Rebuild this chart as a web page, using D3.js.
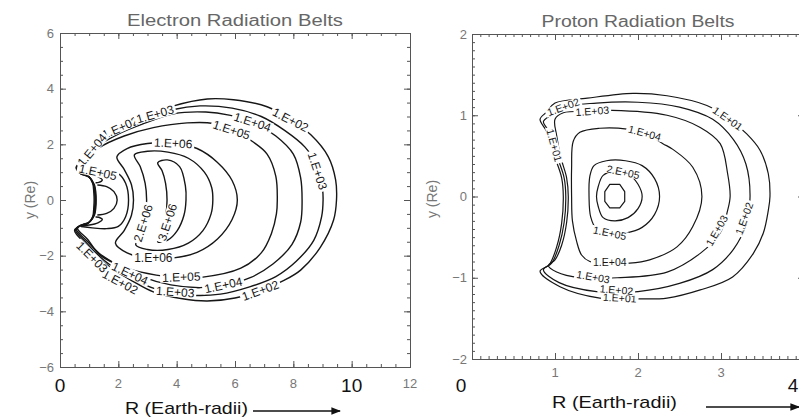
<!DOCTYPE html>
<html><head><meta charset="utf-8">
<script src="https://cdn.jsdelivr.net/npm/d3@7"></script>
<style>
body{margin:0;background:#fff;}
svg{display:block;font-family:"Liberation Sans",Arial,sans-serif;}
</style></head><body>
<svg id="c" width="799" height="417"></svg>
<script>
// ---------------- DATA ----------------
// Electron panel ticks
const eXTicks = [0, 2, 4, 6, 8, 10, 12];
const eXBig = [0, 10];
const eYTicks = [-6, -4, -2, 0, 2, 4, 6];
// Proton panel ticks
const pXTicks = [0, 1, 2, 3, 4];
const pXBig = [0, 4];
const pYTicks = [-2, -1, 0, 1, 2];

// Electron contours (R, y in Earth radii)
const e1E02 = [[0.55,1.15],[0.8,1.55],[1.37,2.16],[2.1,2.58],[2.75,2.9],[3.9,3.38],[5.05,3.63],[5.95,3.6],[7.1,3.35],[7.9,2.88],[8.6,2.34],[9.2,1.55],[9.45,0.72],[9.48,0],
  [9.38,-0.72],[8.93,-1.69],[8.25,-2.52],[7.66,-2.9],[6.87,-3.25],[6.0,-3.52],[5.05,-3.63],[4.2,-3.55],[3.2,-3.3],[2.5,-2.92],[1.8,-2.48],[1.3,-2.05],[0.9,-1.6],[0.5,-1.1],
  [0.62,-0.96],[0.95,-0.85],[1.12,-0.6],[1.16,-0.25],[1.17,0],[1.16,0.25],[1.12,0.6],[0.95,0.88],[0.66,0.99]];
const e1E03 = [[0.57,1.12],[0.82,1.5],[1.4,2.1],[2.1,2.5],[2.8,2.83],[3.9,3.25],[4.8,3.38],[5.9,3.3],[6.9,3.0],[7.7,2.5],[8.4,1.9],[8.83,1.2],[9.0,0.4],[9.02,0],
  [8.97,-0.6],[8.7,-1.45],[8.1,-2.2],[7.4,-2.75],[6.5,-3.12],[5.5,-3.38],[4.5,-3.42],[3.3,-3.2],[2.5,-2.84],[1.8,-2.4],[1.3,-1.98],[0.92,-1.55],[0.53,-1.08],
  [0.66,-0.93],[0.98,-0.82],[1.14,-0.58],[1.19,-0.25],[1.2,0],[1.19,0.25],[1.14,0.58],[0.98,0.85],[0.68,0.96]];
const e1E04 = [[0.6,1.08],[0.85,1.45],[1.42,2.02],[2.1,2.42],[2.8,2.72],[3.9,3.1],[5.0,3.16],[5.8,3.05],[6.6,2.8],[7.4,2.3],[8.0,1.65],[8.25,0.8],[8.3,0],
  [8.25,-0.8],[7.95,-1.6],[7.3,-2.3],[6.5,-2.8],[5.6,-3.06],[4.8,-3.15],[3.8,-3.05],[2.8,-2.75],[2.0,-2.35],[1.35,-1.92],[0.95,-1.5],[0.56,-1.05],
  [0.7,-0.92],[1.0,-0.8],[1.16,-0.56],[1.21,-0.25],[1.22,0],[1.21,0.25],[1.16,0.56],[1.0,0.83],[0.72,0.94]];
const e1E05 = [[0.63,1.03],[0.88,1.38],[1.35,1.88],[2.2,2.3],[3.2,2.6],[4.36,2.77],[5.26,2.75],[6.0,2.48],[6.6,2.1],[7.1,1.65],[7.4,0.85],[7.45,0],
  [7.42,-0.5],[7.25,-1.2],[6.9,-1.9],[6.2,-2.45],[4.9,-2.77],[4.1,-2.78],[3.3,-2.7],[2.3,-2.45],[1.37,-1.98],[0.95,-1.42],[0.6,-1.02],
  [0.75,-0.9],[1.02,-0.78],[1.18,-0.55],[1.23,-0.25],[1.24,0],[1.23,0.25],[1.18,0.55],[1.02,0.8],[0.76,0.92]];
const eInnerLoop = [[1.28,0.54],[1.6,0.48],[1.85,0.3],[1.96,0],[1.85,-0.3],[1.6,-0.48],[1.28,-0.54]];
const eCuspTop = [[0.72,0.95],[1.0,0.93],[1.3,0.84],[1.45,0.72],[1.33,0.63],[1.22,0.62]];
const eCuspBot = [[0.7,-0.93],[1.0,-0.9],[1.3,-0.82],[1.45,-0.7],[1.33,-0.62],[1.22,-0.61]];
const e1E05in = [[0.72,0.98],[1.1,1.02],[1.6,1.03],[2.0,0.95],[2.25,0.6],[2.35,0],[2.25,-0.6],[2.0,-0.95],[1.6,-1.03],[1.1,-1.0],[0.72,-0.95]];
const e1E06 = [[1.95,1.55],[2.3,1.85],[3.0,2.03],[3.88,2.05],[4.7,1.85],[5.4,1.35],[5.9,0.7],[6.08,0],[5.9,-0.7],[5.4,-1.4],[4.7,-1.88],[3.9,-2.08],[3.0,-2.08],[2.3,-1.9],[1.9,-1.55],
  [2.2,-1.1],[2.45,-0.55],[2.52,0],[2.45,0.55],[2.2,1.1]];
const e2E06 = [[2.55,1.62],[3.0,1.75],[3.7,1.72],[4.4,1.5],[4.95,1.0],[5.2,0.45],[5.24,0],[5.18,-0.5],[4.9,-1.1],[4.4,-1.55],[3.7,-1.78],[3.0,-1.78],[2.6,-1.62],
  [2.78,-1.2],[2.92,-0.6],[2.97,0],[2.92,0.6],[2.75,1.2]];
const e3E06 = [[3.35,1.34],[3.68,1.44],[4.1,1.2],[4.3,0.5],[4.32,0],[4.25,-0.55],[4.02,-1.1],[3.68,-1.45],[3.35,-1.5],
  [3.5,-1.1],[3.62,-0.6],[3.67,0],[3.62,0.6],[3.5,1.05]];
const eLabels = [
  {t:"1.E+02", x:7.9, y:2.88, a:27}, {t:"1.E+03", x:8.83, y:1.04, a:72},
  {t:"1.E+04", x:6.6, y:2.8, a:18}, {t:"1.E+05", x:5.88, y:2.52, a:18},
  {t:"1.E+06", x:3.88, y:2.04, a:3}, {t:"1.E+02", x:2.06, y:2.6, a:-24},
  {t:"1.E+03", x:3.26, y:3.08, a:-16}, {t:"1.E+04", x:1.1, y:1.8, a:-50},
  {t:"1.E+05", x:1.3, y:1.0, a:12}, {t:"1.E+06", x:3.2, y:-2.08, a:0},
  {t:"2.E+06", x:2.85, y:-0.83, a:-72}, {t:"3.E+06", x:3.68, y:-0.8, a:-72},
  {t:"1.E+05", x:4.16, y:-2.77, a:-2}, {t:"1.E+04", x:5.6, y:-3.06, a:-12},
  {t:"1.E+03", x:3.95, y:-3.3, a:4}, {t:"1.E+02", x:6.87, y:-3.25, a:-20},
  {t:"1.E+04", x:2.4, y:-2.64, a:25}, {t:"1.E+02", x:2.06, y:-2.95, a:28},
  {t:"1.E+03", x:1.1, y:-2.05, a:45}
];

// Proton contours
const p1E01 = [[0.82,0.95],[0.9,1.04],[1.0,1.15],[1.39,1.21],[1.94,1.27],[2.35,1.24],[2.83,1.12],[3.1,0.95],[3.31,0.77],[3.47,0.57],[3.57,0.28],[3.59,0],[3.57,-0.17],[3.51,-0.45],[3.39,-0.7],[3.14,-0.99],[2.75,-1.15],[2.35,-1.25],[1.99,-1.26],[1.54,-1.25],[1.06,-1.11],[0.82,-0.92],
  [0.93,-0.84],[1.02,-0.62],[1.08,-0.33],[1.1,0],[1.08,0.23],[1.0,0.48],[0.9,0.8]];
const p1E02 = [[0.86,0.92],[0.95,1.0],[1.1,1.1],[1.5,1.15],[2.0,1.16],[2.5,1.1],[2.9,0.95],[3.15,0.7],[3.3,0.4],[3.35,0],[3.3,-0.35],[3.15,-0.65],[2.9,-0.9],[2.5,-1.07],[2.0,-1.17],[1.5,-1.17],[1.05,-1.06],[0.86,-0.9],
  [0.96,-0.82],[1.05,-0.6],[1.11,-0.32],[1.13,0],[1.11,0.23],[1.03,0.48],[0.93,0.8]];
const p1E03 = [[1.0,0.95],[1.1,1.03],[1.45,1.05],[1.69,1.06],[2.35,1.0],[2.75,0.85],[2.99,0.65],[3.08,0.28],[3.11,0],[3.08,-0.17],[2.99,-0.45],[2.75,-0.7],[2.35,-0.93],[1.75,-1.0],[1.3,-1.0],[1.02,-0.93],[0.92,-0.85],
  [1.0,-0.78],[1.08,-0.6],[1.14,-0.32],[1.16,0],[1.14,0.23],[1.07,0.48],[1.02,0.75]];
const p1E04 = [[1.22,0.68],[1.3,0.79],[1.54,0.84],[1.87,0.83],[2.08,0.78],[2.3,0.65],[2.42,0.58],[2.66,0.36],[2.77,0],[2.66,-0.37],[2.47,-0.62],[2.14,-0.78],[1.9,-0.82],[1.66,-0.82],[1.42,-0.8],[1.32,-0.72],[1.26,-0.55],[1.21,-0.3],[1.2,0],[1.2,0.35]];
const p1E05 = [[1.42,0.25],[1.47,0.38],[1.62,0.44],[1.85,0.44],[2.05,0.38],[2.2,0.22],[2.26,0],[2.2,-0.22],[2.05,-0.38],[1.85,-0.45],[1.66,-0.46],[1.5,-0.4],[1.43,-0.25],[1.41,0]];
const p2E05 = [[1.52,0.12],[1.58,0.26],[1.72,0.31],[1.88,0.28],[2.0,0.15],[2.05,0],[2.0,-0.15],[1.88,-0.26],[1.72,-0.3],[1.58,-0.26],[1.52,-0.12],[1.5,0]];
const pCore = [[1.66,0.15],[1.78,0.15],[1.84,0.06],[1.84,-0.06],[1.78,-0.14],[1.66,-0.14],[1.6,-0.06],[1.6,0.06]];
const pLabels = [
  {t:"1.E+01", x:3.08, y:0.96, a:35}, {t:"1.E+01", x:1.78, y:-1.25, a:3},
  {t:"1.E+01", x:0.99, y:0.63, a:75}, {t:"1.E+02", x:1.1, y:1.1, a:-20},
  {t:"1.E+02", x:1.74, y:-1.15, a:5}, {t:"1.E+02", x:3.28, y:-0.27, a:-70},
  {t:"1.E+03", x:1.45, y:1.05, a:-4}, {t:"1.E+03", x:2.95, y:-0.42, a:-60},
  {t:"1.E+03", x:1.46, y:-0.99, a:10}, {t:"1.E+04", x:2.08, y:0.78, a:15},
  {t:"1.E+04", x:1.66, y:-0.81, a:0}, {t:"1.E+05", x:1.66, y:-0.45, a:12},
  {t:"2.E+05", x:1.82, y:0.3, a:12}
];

// ---------------- DRAW ----------------
const svg = d3.select("#c");
svg.append("defs").append("marker").attr("id","arr").attr("viewBox","0 0 10 10")
  .attr("refX",9).attr("refY",5).attr("markerWidth",6).attr("markerHeight",6).attr("orient","auto")
  .append("path").attr("d","M0,1 L10,5 L0,9 z").attr("fill","#111");

function frame(x, y, xMaj, xMin, yMaj, yMin) {
  const [x0, x1] = x.range();
  const [y0, y1] = y.range();
  const g = svg.append("g");
  const mk = (axis, tr) => {
    const a = g.append("g").attr("transform", tr).call(axis);
    a.select(".domain").remove();
    a.selectAll("line").attr("stroke", "#555").attr("stroke-width", 1);
  };
  [[xMin, -3], [xMaj, -6]].forEach(([v, s]) => {
    mk(d3.axisBottom(x).tickValues(v).tickSize(s).tickFormat(""), `translate(0,${y0})`);
    mk(d3.axisTop(x).tickValues(v).tickSize(s).tickFormat(""), `translate(0,${y1})`);
  });
  [[yMin, -3], [yMaj, -6]].forEach(([v, s]) => {
    mk(d3.axisLeft(y).tickValues(v).tickSize(s).tickFormat(""), `translate(${x0},0)`);
    mk(d3.axisRight(y).tickValues(v).tickSize(s).tickFormat(""), `translate(${x1},0)`);
  });
  g.append("rect").attr("x", x0 + 0.5).attr("y", y1 + 0.5).attr("width", x1 - x0).attr("height", y0 - y1)
    .attr("fill", "none").attr("stroke", "#555").attr("stroke-width", 1);
}

function contours(x, y, list, sw) {
  const g = svg.append("g");
  list.forEach(([pts, closed]) => {
    const line = d3.line().x(d => x(d[0])).y(d => y(d[1]))
      .curve(closed === 2 ? d3.curveLinearClosed : closed ? d3.curveCatmullRomClosed.alpha(0.5) : d3.curveCatmullRom.alpha(0.5));
    g.append("path").attr("d", line(pts)).attr("fill", "none").attr("stroke", "#161616")
      .attr("stroke-width", sw).attr("stroke-linejoin", "round");
  });
}

function labels(x, y, list, fs) {
  const g = svg.append("g");
  list.forEach(l => {
    const lg = g.append("g").attr("transform", `translate(${x(l.x)},${y(l.y)}) rotate(${l.a})`);
    const bg = lg.append("rect").attr("fill", "#fff");
    const t = lg.append("text").attr("text-anchor", "middle").attr("dy", "0.35em").attr("font-size", fs)
      .attr("fill", "#161616").text(l.t);
    const w = t.node().getComputedTextLength();
    bg.attr("x", -w / 2 - 2).attr("y", -fs * 0.42).attr("width", w + 4).attr("height", fs * 0.84);
  });
}

function tickText(x, y, xt, big, yt, bigDx, xLabY, yLabX) {
  const g = svg.append("g");
  xt.forEach(v => {
    const isBig = big.includes(v);
    g.append("text").attr("x", x(v) + (isBig ? bigDx : 0)).attr("y", isBig ? 392 : xLabY)
      .attr("text-anchor", "middle").attr("font-size", isBig ? 19 : 13)
      .attr("fill", isBig ? "#111" : "#777").text(v);
  });
  yt.forEach(v => {
    g.append("text").attr("x", yLabX).attr("y", y(v)).attr("dy", "0.35em")
      .attr("text-anchor", "end").attr("font-size", 13).attr("fill", "#777")
      .text(v < 0 ? "\u2212" + Math.abs(v) : v);
  });
}

// Electron panel
const eX = d3.scaleLinear().domain([0, 12]).range([60, 410]);
const eY = d3.scaleLinear().domain([-6, 6]).range([367, 33]);
frame(eX, eY, eXTicks, d3.range(0, 12.01, 0.5), eYTicks, d3.range(-6, 6.01, 0.5));
contours(eX, eY, [[e1E02,1],[e1E03,1],[e1E04,1],[e1E05,1],[eInnerLoop,0],[eCuspTop,0],[eCuspBot,0],[e1E05in,0],[e1E06,1],[e2E06,1],[e3E06,1]], 1.4);
labels(eX, eY, eLabels, 12);
tickText(eX, eY, eXTicks, eXBig, eYTicks, 0, 388, 54);

// Proton panel
const pX = d3.scaleLinear().domain([0, 4]).range([472, 804]);
const pY = d3.scaleLinear().domain([-2, 2]).range([359, 34]);
frame(pX, pY, pXTicks, d3.range(0, 4.01, 0.1), pYTicks, d3.range(-2, 2.01, 0.1));
contours(pX, pY, [[p1E01,1],[p1E02,1],[p1E03,1],[p1E04,1],[p1E05,1],[p2E05,1],[pCore,2]], 1.2);
labels(pX, pY, pLabels, 10.5);
tickText(pX, pY, pXTicks, pXBig, pYTicks, -11, 377, 467);

// Titles
svg.append("text").attr("x", 235).attr("y", 26).attr("text-anchor", "middle").attr("font-size", 16)
  .attr("fill", "#666").attr("textLength", 216).attr("lengthAdjust", "spacingAndGlyphs").text("Electron Radiation Belts");
svg.append("text").attr("x", 638).attr("y", 27).attr("text-anchor", "middle").attr("font-size", 16)
  .attr("fill", "#666").attr("textLength", 193).attr("lengthAdjust", "spacingAndGlyphs").text("Proton Radiation Belts");

// Y axis titles
[[30, 200], [432, 199]].forEach(([cx, cy]) => {
  svg.append("text").attr("transform", `translate(${cx},${cy}) rotate(-90)`).attr("text-anchor", "middle")
    .attr("dy", "0.35em").attr("font-size", 14).attr("fill", "#777").text("y (Re)");
});

// X axis titles with arrows
[[186.5, 414, 123, 253, 340, 411], [614.5, 408, 125, 706, 799, 407]].forEach(([cx, by, w, a0, a1, ay]) => {
  svg.append("text").attr("x", cx).attr("y", by).attr("text-anchor", "middle").attr("font-size", 17)
    .attr("fill", "#111").attr("textLength", w).attr("lengthAdjust", "spacingAndGlyphs").text("R (Earth-radii)");
  svg.append("line").attr("x1", a0).attr("x2", a1).attr("y1", ay).attr("y2", ay)
    .attr("stroke", "#111").attr("stroke-width", 1.6).attr("marker-end", "url(#arr)");
});
</script></body></html>
